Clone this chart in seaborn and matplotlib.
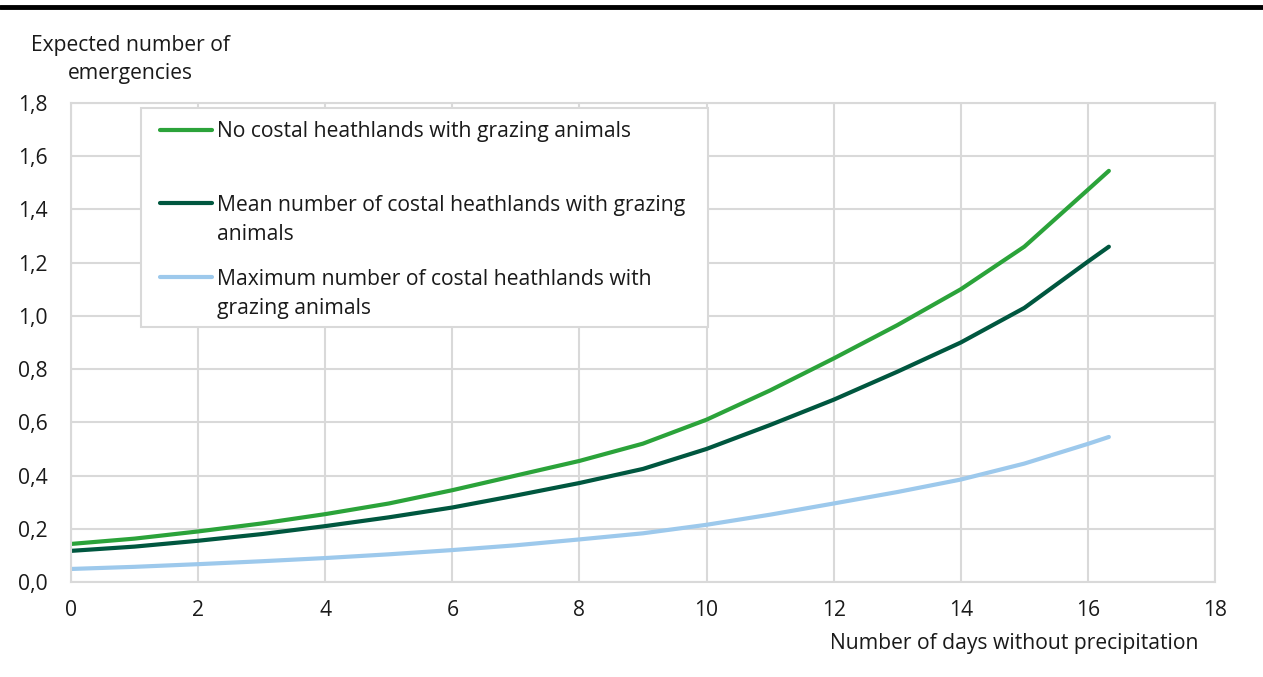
import numpy as np
import pandas as pd
import matplotlib.pyplot as plt
import seaborn as sns
from matplotlib.lines import Line2D
from matplotlib.patches import Rectangle

# values
days = [0, 1, 2, 3, 4, 5, 6, 7, 8, 9, 10, 11, 12, 13, 14, 15, 16, 16.33]
no_heath = [0.143, 0.163, 0.19, 0.22, 0.255, 0.295, 0.345, 0.40, 0.455, 0.52,
            0.61, 0.72, 0.84, 0.965, 1.10, 1.26, 1.474, 1.545]
mean_heath = [0.117, 0.133, 0.155, 0.18, 0.21, 0.243, 0.28, 0.325, 0.372, 0.425,
              0.50, 0.59, 0.685, 0.79, 0.90, 1.03, 1.204, 1.26]
max_heath = [0.049, 0.057, 0.067, 0.078, 0.09, 0.104, 0.12, 0.138, 0.16, 0.183,
             0.215, 0.253, 0.295, 0.338, 0.385, 0.445, 0.519, 0.545]

labels = ["No costal heathlands with grazing animals",
          "Mean number of costal heathlands with grazing\nanimals",
          "Maximum number of costal heathlands with\ngrazing animals"]
colors = ["#2ba33a", "#00573f", "#9dc9ec"]

df = pd.DataFrame({
    "days": days * 3,
    "value": no_heath + mean_heath + max_heath,
    "series": [labels[0]] * len(days) + [labels[1]] * len(days) + [labels[2]] * len(days),
})

sns.set_style("white")
plt.rcParams["font.family"] = ["Open Sans", "DejaVu Sans"]
FS = 15.2
TXT = "#1a1a1a"

fig = plt.figure(figsize=(12.63, 6.77), dpi=100)
ax = fig.add_axes([71 / 1263, 1 - 582 / 677, (1215 - 71) / 1263, (582 - 103) / 677])

sns.lineplot(data=df, x="days", y="value", hue="series", palette=colors,
             hue_order=labels, linewidth=3, legend=False, ax=ax)
for ln in ax.lines:
    ln.set_solid_capstyle("round")
    ln.set_solid_joinstyle("round")

ax.set_xlim(0, 18)
ax.set_ylim(0, 1.8)
ax.set_xticks(np.arange(0, 19, 2))
ax.set_yticks(np.arange(0, 1.81, 0.2))
ax.set_yticklabels([f"{v:.1f}".replace(".", ",") for v in np.arange(0, 1.81, 0.2)])
ax.grid(True, color="#d9d9d9", linewidth=1.5)
ax.set_axisbelow(True)
for s in ax.spines.values():
    s.set_color("#d9d9d9")
    s.set_linewidth(1.5)
ax.tick_params(axis="both", length=0, labelsize=FS, colors=TXT)
ax.tick_params(axis="y", pad=17)
ax.tick_params(axis="x", pad=13)
ax.set_xlabel("")
ax.set_ylabel("")

# legend box drawn by hand so the handles sit on the first text line
W, H = 1263, 677
def fx(px):
    return px / W
def fy(py):
    return 1 - py / H

LINE = 29  # pixel gap between text lines

fig.add_artist(Rectangle((fx(141), fy(327)), fx(708) - fx(141), fy(108) - fy(327),
                         transform=fig.transFigure, facecolor="white",
                         edgecolor="#d9d9d9", linewidth=1.5, zorder=5))
for y, lab, c in zip([130, 203, 277], labels, colors):
    fig.add_artist(Line2D([fx(160), fx(212)], [fy(y), fy(y)], color=c,
                          linewidth=3, solid_capstyle="round", zorder=6))
    # baseline of the last line
    base = y + 7.5 + LINE * lab.count("\n")
    fig.text(fx(217), fy(base), lab, ha="left", va="baseline", fontsize=FS,
             color=TXT, linespacing=1.5, zorder=6)

fig.text(fx(130), fy(49.5 + 30), "Expected number of\nemergencies", ha="center",
         va="baseline", fontsize=FS, color=TXT, linespacing=1.5)
fig.text(fx(1199), fy(649.5), "Number of days without precipitation", ha="right",
         va="baseline", fontsize=FS, color=TXT)

# thick rule at the top
fig.add_artist(Line2D([0, 1], [fy(7), fy(7)], color="black", linewidth=3.5))

fig.savefig("out.png", dpi=100)
